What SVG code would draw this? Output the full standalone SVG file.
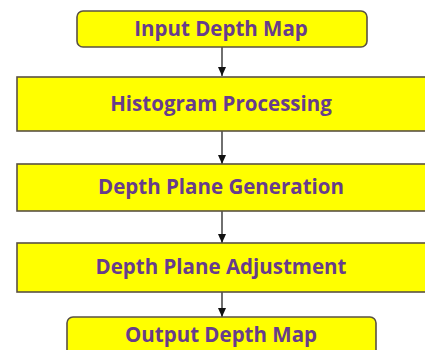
<svg xmlns="http://www.w3.org/2000/svg" width="425" height="350" viewBox="0 0 425 350">
<defs>
<marker id="ah" markerWidth="10" markerHeight="10" refX="9" refY="5" orient="auto" markerUnits="userSpaceOnUse">
<path d="M0,1 L9,5 L0,9 Z" fill="#111"/>
</marker>
<style>
.box{fill:#ffff00;stroke:#5a5243;stroke-width:1.6}
.lbl{font-family:"Open Sans","DejaVu Sans",sans-serif;font-weight:bold;font-size:20.5px;fill:#673c8c;text-anchor:middle}
.conn{stroke:#333;stroke-width:1.4;fill:none;marker-end:url(#ah)}
</style>
</defs>
<rect x="0" y="0" width="425" height="350" fill="#ffffff"/>
<g id="connectors">
<line class="conn" x1="222" y1="47" x2="222" y2="76"/>
<line class="conn" x1="222" y1="131" x2="222" y2="164"/>
<line class="conn" x1="222" y1="211" x2="222" y2="243"/>
<line class="conn" x1="222" y1="292" x2="222" y2="317"/>
</g>
<g id="input">
<rect class="box" x="77" y="11" width="290" height="36" rx="6"/>
<text class="lbl" x="221" y="36">Input Depth Map</text>
</g>
<g id="histogram">
<rect class="box" x="17" y="77" width="425" height="54"/>
<text class="lbl" x="221" y="111">Histogram Processing</text>
</g>
<g id="generation">
<rect class="box" x="17" y="164" width="425" height="47"/>
<text class="lbl" x="221" y="194">Depth Plane Generation</text>
</g>
<g id="adjustment">
<rect class="box" x="17" y="243" width="425" height="49"/>
<text class="lbl" x="221" y="274">Depth Plane Adjustment</text>
</g>
<g id="output">
<rect class="box" x="67" y="317" width="309" height="45" rx="6"/>
<text class="lbl" x="221" y="342">Output Depth Map</text>
</g>
</svg>
